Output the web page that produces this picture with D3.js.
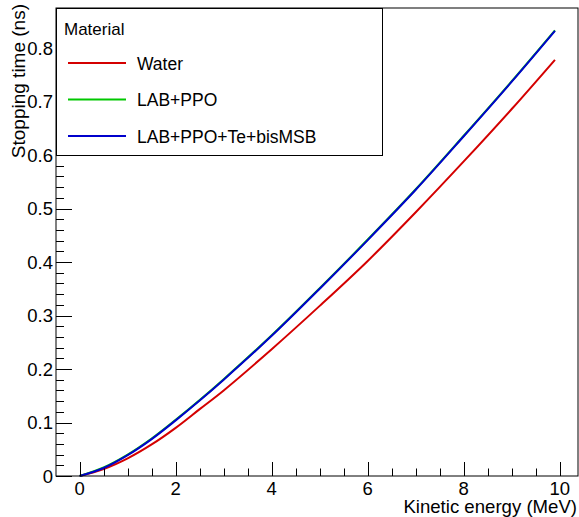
<!DOCTYPE html>
<html><head><meta charset="utf-8">
<script src="https://cdn.jsdelivr.net/npm/d3@7"></script>
<style>
html,body{margin:0;padding:0;background:#fff;}
svg{display:block;}
text{font-family:"Liberation Sans",Arial,Helvetica,sans-serif;fill:#000;}
</style></head>
<body>
<svg id="chart" width="579" height="517"></svg>
<script>
// ---- data ----
const energy   = [0, 0.5, 1, 1.5, 2, 2.5, 3, 4, 5, 6, 7, 8, 9, 9.9];
const water    = [0, 0.013, 0.033, 0.059, 0.090, 0.125, 0.160, 0.237, 0.318, 0.402, 0.493, 0.588, 0.686, 0.778];
const labPPO   = [0, 0.016, 0.040, 0.070, 0.105, 0.142, 0.181, 0.263, 0.351, 0.442, 0.536, 0.636, 0.738, 0.833];
const labPPOTe = [0, 0.015, 0.039, 0.069, 0.104, 0.141, 0.180, 0.262, 0.350, 0.441, 0.535, 0.635, 0.737, 0.832];
const seriesNames  = ["Water", "LAB+PPO", "LAB+PPO+Te+bisMSB"];
const seriesColors = ["#d40000", "#00c800", "#0000cc"];
const xTickValues = [0, 2, 4, 6, 8, 10];
const xTickLabels = ["0", "2", "4", "6", "8", "10"];
const yTickValues = [0, 0.1, 0.2, 0.3, 0.4, 0.5, 0.6, 0.7, 0.8];
const yTickLabels = ["0", "0.1", "0.2", "0.3", "0.4", "0.5", "0.6", "0.7", "0.8"];
const xTitle = "Kinetic energy (MeV)";
const yTitle = "Stopping time (ns)";
const legendTitle = "Material";

// ---- layout ----
const L = 56, R = 578, T = 8, B = 476;
const svg = d3.select("#chart");
const x = d3.scaleLinear().domain([-0.493, 10.38]).range([L, R]);
const y = d3.scaleLinear().domain([0, 0.8748]).range([B, T]);

// curves
const allSeries = [water, labPPO, labPPOTe];
const line = d3.line().x((d,i)=>x(energy[i])).y(d=>y(d)).curve(d3.curveCatmullRom.alpha(0.5));
allSeries.forEach((s,k)=>{
  svg.append("path").attr("d", line(s)).attr("fill","none")
     .attr("stroke", seriesColors[k]).attr("stroke-width", 2);
});

// frame
svg.append("rect").attr("x",L).attr("y",T).attr("width",R-L).attr("height",B-T)
   .attr("fill","none").attr("stroke","#000").attr("stroke-width",1);

// x ticks
const xMinor = d3.range(0, 10.01, 0.5);
const g = svg.append("g").attr("stroke","#000").attr("stroke-width",1);
xMinor.forEach(v=>{
  const major = Math.abs(v - Math.round(v/2)*2) < 1e-6;
  const px = Math.round(x(v)) + 0.5;
  g.append("line").attr("x1",px).attr("x2",px).attr("y1",B).attr("y2",B-(major?14:7.5));
});
xTickValues.forEach((v,i)=>{
  svg.append("text").attr("x",x(v)).attr("y",495).attr("text-anchor","middle")
     .attr("font-size",18.5).text(xTickLabels[i]);
});
// y ticks
const yMinor = d3.range(0, 0.8748, 0.02);
yMinor.forEach((v,i)=>{
  const major = i % 5 === 0;
  const py = Math.round(y(v)) + 0.5;
  g.append("line").attr("x1",L).attr("x2",L+(major?16:8)).attr("y1",py).attr("y2",py);
});
yTickValues.forEach((v,i)=>{
  svg.append("text").attr("x",53).attr("y",y(v)+6.8).attr("text-anchor","end")
     .attr("font-size",18.5).text(yTickLabels[i]);
});

// axis titles
svg.append("text").attr("x",577).attr("y",513).attr("text-anchor","end")
   .attr("font-size",18.6).text(xTitle);
svg.append("text").attr("transform","translate(25,4) rotate(-90)").attr("text-anchor","end")
   .attr("font-size",19).text(yTitle);

// legend
svg.append("rect").attr("x",56.5).attr("y",8.5).attr("width",326).attr("height",147)
   .attr("fill","#fff").attr("stroke","#000").attr("stroke-width",1);
svg.append("text").attr("x",64).attr("y",34.5).attr("font-size",17).text(legendTitle);
const legY = [63, 99.5, 136];
seriesNames.forEach((n,k)=>{
  svg.append("line").attr("x1",68).attr("x2",126).attr("y1",legY[k]).attr("y2",legY[k])
     .attr("stroke",seriesColors[k]).attr("stroke-width",2);
  svg.append("text").attr("x",137).attr("y",legY[k]+6.5).attr("font-size",17.5).text(n);
});
</script>
</body></html>
